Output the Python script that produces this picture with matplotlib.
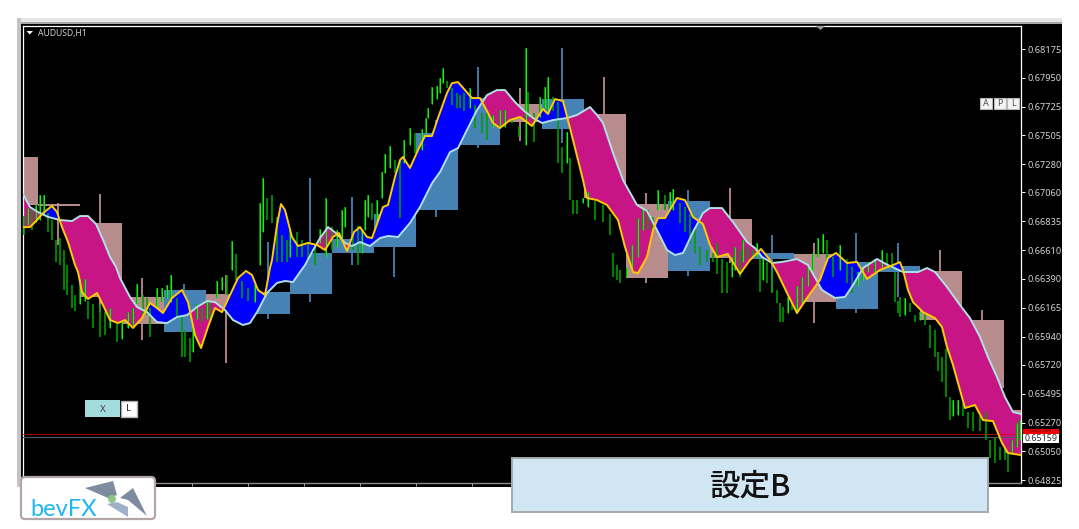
import matplotlib
matplotlib.use('Agg')  # Use non-GUI backend
import matplotlib.pyplot as plt
from matplotlib.patches import Rectangle, Polygon, Circle, FancyBboxPatch
import numpy as np

# Daily boxes (x is the chart's time position, one day = 42 units)
box_left = [-4, 38, 80, 122, 164, 206, 248, 290, 332, 374, 416, 458, 500, 542, 584, 626, 668, 710, 752, 794, 836, 878, 920, 962, 1004]
box_open = [.67336, .66971, .66823, .66248, .65975, .66271, .66115, .66271, .66590, .66636, .66924, .67429, .67748, .67553, .67670, .66970, .66450, .66854, .66543, .66582, .66154, .66442, .66450, .66069, .65369]
box_close = [.66963, .66955, .66248, .66037, .66302, .66146, .66286, .66590, .66698, .66893, .67522, .67794, .67608, .67786, .67017, .66395, .66994, .66551, .66590, .66208, .66519, .66488, .66069, .65540, .65035]
box_high = [.67336, .66979, .67048, .66395, .66349, .66419, .66675, .67172, .67025, .67079, .67623, .68035, .67872, .68183, .67958, .67056, .67079, .67095, .66730, .66668, .66745, .66668, .66613, .66146, .65369]
box_low = [.66963, .66652, .66130, .65913, .65975, .65735, .66076, .66208, .66496, .66403, .66869, .67405, .67460, .67445, .67017, .66357, .66411, .66512, .66286, .66045, .66123, .66248, .66069, .65540, .64887]

# Slow line (pale)
slow_x = [23, 30, 38, 48, 60, 72, 80, 88, 96, 104, 110, 116, 120, 130, 137, 147, 157, 167, 177, 187, 197, 207, 215, 225, 233, 243, 250, 257, 267, 277, 285, 293, 300, 305, 312, 320, 328, 336, 345, 352, 360, 370, 380, 388, 398, 410, 420, 432, 440, 450, 458, 467, 477, 487, 497, 505, 515, 523, 533, 542, 553, 567, 577, 590, 597, 603, 613, 623, 637, 647, 657, 667, 675, 683, 693, 703, 710, 722, 733, 747, 755, 762, 772, 782, 797, 808, 822, 835, 845, 853, 863, 877, 888, 903, 918, 927, 935, 947, 960, 970, 980, 988, 997, 1005, 1013, 1021]
slow_y = [.67048, .66947, .66908, .66870, .66846, .66838, .66877, .66877, .66815, .66675, .66559, .66481, .66395, .66248, .66170, .66130, .66053, .66045, .66092, .66107, .66170, .66216, .66208, .66146, .66069, .66030, .66045, .66130, .66279, .66357, .66372, .66364, .66442, .66496, .66597, .66706, .66791, .66745, .66668, .66644, .66675, .66644, .66706, .66722, .66714, .66823, .66947, .67133, .67219, .67374, .67405, .67546, .67701, .67817, .67856, .67856, .67763, .67701, .67639, .67600, .67623, .67639, .67662, .67724, .67662, .67600, .67367, .67157, .66963, .66916, .66768, .66613, .66574, .66590, .66753, .66900, .66939, .66939, .66830, .66675, .66628, .66559, .66512, .66520, .66543, .66496, .66302, .66240, .66248, .66341, .66473, .66543, .66496, .66442, .66442, .66473, .66442, .66325, .66185, .66084, .65936, .65781, .65625, .65470, .65354, .65338]

# Fast line (yellow)
fast_x = [23, 30, 37, 43, 52, 57, 62, 68, 75, 78, 82, 88, 97, 103, 110, 118, 125, 133, 142, 150, 157, 163, 172, 182, 188, 195, 201, 208, 215, 222, 230, 238, 246, 252, 258, 265, 270, 272, 277, 281, 285, 292, 298, 308, 317, 325, 333, 339, 347, 354, 360, 367, 372, 383, 388, 395, 400, 403, 410, 418, 425, 432, 438, 447, 452, 458, 465, 472, 480, 488, 493, 500, 510, 520, 532, 543, 548, 555, 563, 570, 583, 587, 597, 607, 618, 625, 633, 638, 647, 653, 658, 665, 677, 685, 693, 703, 710, 717, 728, 740, 750, 761, 770, 777, 787, 797, 807, 820, 828, 836, 847, 857, 867, 880, 893, 900, 903, 908, 913, 923, 935, 942, 947, 953, 960, 965, 975, 983, 993, 1002, 1008, 1021]
fast_y = [.66791, .66791, .66846, .66900, .66955, .66908, .66791, .66675, .66496, .66442, .66286, .66232, .66279, .66185, .66069, .66045, .66069, .66007, .66084, .66201, .66162, .66123, .66240, .66302, .66208, .65952, .65851, .66014, .66162, .66130, .66263, .66395, .66450, .66419, .66302, .66263, .66473, .66535, .66807, .66970, .66924, .66714, .66644, .66668, .66652, .66613, .66714, .66745, .66605, .66753, .66791, .66714, .66706, .66947, .66963, .67180, .67312, .67336, .67250, .67390, .67499, .67499, .67639, .67833, .67910, .67918, .67856, .67794, .67794, .67678, .67600, .67561, .67623, .67647, .67577, .67709, .67670, .67786, .67771, .67561, .67157, .67017, .67001, .66963, .66846, .66636, .66442, .66434, .66559, .66768, .66861, .66861, .67017, .67001, .66869, .66815, .66652, .66559, .66582, .66427, .66535, .66621, .66535, .66442, .66279, .66123, .66240, .66380, .66551, .66590, .66512, .66520, .66388, .66458, .66496, .66519, .66458, .66302, .66208, .66130, .66084, .66014, .65859, .65719, .65525, .65385, .65408, .65291, .65283, .65113, .65035, .65019]

# Hourly bars (sampled)
bar_x = [24, 28, 32, 36, 40, 44, 48, 52, 56, 60, 64, 67, 72, 75, 80, 85, 88, 93, 100, 105, 110, 117, 122, 128, 133, 137, 143, 147, 150, 157, 162, 167, 171, 177, 182, 185, 190, 193, 197, 202, 207, 210, 217, 222, 227, 232, 236, 242, 248, 255, 260, 263, 267, 272, 277, 282, 287, 290, 297, 302, 308, 315, 320, 326, 332, 337, 342, 345, 353, 358, 362, 365, 368, 372, 377, 382, 385, 390, 395, 400, 404, 410, 415, 422, 426, 428, 432, 437, 440, 443, 447, 452, 457, 460, 464, 470, 475, 482, 487, 493, 500, 505, 512, 519, 526, 528, 534, 540, 545, 548, 553, 558, 562, 567, 570, 573, 577, 583, 588, 595, 603, 610, 613, 617, 620, 627, 632, 638, 643, 648, 653, 658, 665, 670, 673, 680, 685, 690, 695, 700, 707, 713, 717, 722, 727, 732, 735, 740, 743, 748, 753, 757, 760, 763, 767, 772, 777, 780, 783, 788, 792, 797, 802, 808, 813, 818, 823, 827, 833, 840, 847, 852, 858, 863, 868, 875, 882, 887, 892, 895, 898, 900, 905, 910, 915, 920, 925, 930, 935, 938, 942, 946, 950, 953, 958, 963, 968, 973, 980, 986, 990, 995, 1000, 1005, 1008, 1012, 1017, 1020]
bar_high = [.6688, .6694, .6692, .6696, .6704, .6704, .6690, .6685, .6669, .6671, .6661, .6650, .6634, .6626, .6639, .6639, .6622, .6619, .6619, .6613, .6616, .6605, .6605, .6613, .6616, .6635, .6626, .6624, .6616, .6632, .6632, .6634, .6642, .6624, .6611, .6598, .6593, .6601, .6619, .6616, .6621, .6621, .6637, .6640, .6642, .6668, .6658, .6637, .6632, .6635, .6698, .6717, .6702, .6704, .6687, .6673, .6669, .6677, .6675, .6669, .6667, .6664, .6678, .6702, .6679, .6677, .6692, .6695, .6674, .6680, .6677, .6700, .6704, .6698, .6700, .6722, .6736, .6742, .6731, .6731, .6747, .6756, .6752, .6755, .6764, .6772, .6788, .6789, .6795, .6803, .6793, .6787, .6783, .6782, .6783, .6787, .6774, .6768, .6770, .6766, .6770, .6770, .6765, .6758, .6818, .6784, .6768, .6780, .6788, .6796, .6780, .6776, .6741, .6753, .6733, .6700, .6700, .6702, .6706, .6699, .6696, .6689, .6659, .6650, .6646, .6647, .6665, .6686, .6694, .6692, .6687, .6708, .6704, .6706, .6709, .6698, .6695, .6689, .6679, .6664, .6661, .6659, .6667, .6654, .6652, .6656, .6664, .6661, .6669, .6664, .6661, .6667, .6654, .6654, .6652, .6646, .6630, .6620, .6617, .6625, .6620, .6633, .6640, .6648, .6659, .6671, .6674, .6669, .6656, .6665, .6654, .6648, .6644, .6648, .6652, .6654, .6661, .6659, .6659, .6644, .6622, .6625, .6624, .6620, .6611, .6613, .6612, .6603, .6599, .6582, .6578, .6584, .6547, .6545, .6545, .6542, .6535, .6535, .6532, .6535, .6514, .6515, .6508, .6508, .6503, .6514, .6527, .6529]
bar_low = [.6673, .6681, .6677, .6683, .6685, .6689, .6675, .6669, .6652, .6650, .6630, .6626, .6616, .6614, .6619, .6622, .6608, .6601, .6594, .6595, .6601, .6590, .6592, .6601, .6603, .6619, .6611, .6611, .6594, .6616, .6621, .6624, .6621, .6608, .6578, .6578, .6574, .6582, .6608, .6605, .6608, .6608, .6624, .6630, .6626, .6646, .6638, .6624, .6622, .6621, .6650, .6675, .6685, .6682, .6652, .6652, .6652, .6656, .6656, .6656, .6652, .6650, .6667, .6656, .6661, .6664, .6671, .6679, .6661, .6650, .6659, .6677, .6687, .6685, .6685, .6702, .6721, .6725, .6721, .6686, .6729, .6743, .6737, .6739, .6752, .6764, .6775, .6779, .6783, .6791, .6787, .6774, .6772, .6772, .6769, .6772, .6756, .6752, .6747, .6757, .6756, .6757, .6760, .6749, .6743, .6765, .6745, .6765, .6772, .6770, .6769, .6729, .6721, .6729, .6700, .6689, .6689, .6698, .6695, .6685, .6683, .6673, .6640, .6638, .6636, .6640, .6646, .6656, .6677, .6677, .6677, .6692, .6692, .6694, .6692, .6682, .6675, .6667, .6659, .6650, .6652, .6652, .6643, .6628, .6628, .6640, .6646, .6640, .6652, .6654, .6655, .6656, .6629, .6638, .6636, .6628, .6620, .6605, .6605, .6612, .6615, .6612, .6620, .6633, .6646, .6656, .6659, .6652, .6640, .6646, .6636, .6628, .6633, .6638, .6644, .6644, .6648, .6648, .6646, .6621, .6612, .6609, .6611, .6613, .6605, .6607, .6603, .6585, .6578, .6567, .6559, .6547, .6529, .6532, .6533, .6532, .6523, .6521, .6521, .6514, .6500, .6496, .6498, .6498, .6489, .6503, .6508, .6514]

price_ticks = [.68175, .67950, .67725, .67505, .67280, .67060, .66835, .66610, .66390, .66165, .65940, .65720, .65495, .65270, .65050, .64825]
ask_price = .65184
bid_price = .65159

fig = plt.figure(figsize=(10.79, 5.29), dpi=100, facecolor='white')

# Window chrome and overlays are placed in picture pixels
back = fig.add_axes([0, 0, 1, 1], zorder=0)
back.set_xlim(0, 1079)
back.set_ylim(529, 0)
back.axis('off')
back.add_patch(Rectangle((17, 18), 1045, 6, color='#E6E6E6', lw=0))
back.add_patch(Rectangle((17, 22), 1045, 2, color='#A8A8A8', lw=0))
back.add_patch(Rectangle((17, 18), 4, 469, color='#C4C4C4', lw=0))
back.add_patch(Rectangle((21, 24), 1041, 463, color='black', lw=0))

# Main chart
W, H = 1079, 529
ax = fig.add_axes([23 / W, 1 - 483 / H, (1021 - 23) / W, (483 - 26) / H], zorder=1)
ax.set_facecolor('black')
ax.set_xlim(23, 1021)
ax.set_ylim(.64802, .68354)

box_open = np.array(box_open)
box_close = np.array(box_close)
box_colors = ['#4682B4' if c > o else '#B88C8C' for o, c in zip(box_open, box_close)]
box_mid = np.array(box_left) + 20
ax.vlines(box_mid, box_low, box_high, colors=box_colors, lw=1.3, zorder=1)
ax.bar(box_left, np.abs(box_close - box_open), bottom=np.minimum(box_open, box_close),
       width=42, align='edge', color=box_colors, lw=0, zorder=1)

# Area between the two lines, on a shared x
xs = np.union1d(slow_x, fast_x)
xs = np.union1d(xs, np.arange(23, 1022))
slow_on_x = np.interp(xs, slow_x, slow_y)
fast_on_x = np.interp(xs, fast_x, fast_y)
ax.fill_between(xs, slow_on_x, fast_on_x, where=fast_on_x >= slow_on_x, color='#0000FF', lw=0, zorder=2)
ax.fill_between(xs, slow_on_x, fast_on_x, where=fast_on_x < slow_on_x, color='#C71585', lw=0, zorder=2)

ax.axhline(ask_price, color='#E00000', lw=0.55, zorder=3)
ax.axhline(bid_price, color='#4A5866', lw=0.8, zorder=3)

bar_high = np.array(bar_high)
bar_low = np.array(bar_low)
bar_mid = (bar_high + bar_low) / 2
rising = np.diff(bar_mid, prepend=bar_mid[0]) > 0
bar_x = np.array(bar_x)
# dark body on every bar, bright core on the rising ones
ax.vlines(bar_x, bar_low, bar_high, colors='#00A000', lw=1.5, alpha=0.8, zorder=3)
ax.vlines(bar_x[rising], bar_low[rising], bar_high[rising], colors='#22F022', lw=0.8, alpha=0.95, zorder=3)

ax.plot(slow_x, slow_y, color='#B0E0E6', lw=1.4, solid_joinstyle='round', zorder=4)
ax.plot(fast_x, fast_y, color='#FFCC00', lw=1.4, solid_joinstyle='round', zorder=5)

for side in ['top', 'left', 'right']:
    ax.spines[side].set_color('white')
    ax.spines[side].set_linewidth(0.9)
ax.spines['bottom'].set_color('#8C8C8C')
ax.spines['bottom'].set_linewidth(1.0)
ax.yaxis.tick_right()
ax.set_yticks(price_ticks)
ax.set_yticklabels(['%.5f' % p for p in price_ticks], family='Noto Sans', fontsize=6.6, color='#D4D4D4')
ax.tick_params(axis='y', color='white', length=3, width=0.7, pad=2)
ax.set_xticks(np.arange(24, 1021, 56))
ax.set_xticklabels([])
ax.tick_params(axis='x', color='#B0B0B0', length=2, width=0.7)

# Overlays
top = fig.add_axes([0, 0, 1, 1], zorder=2)
top.set_xlim(0, 1079)
top.set_ylim(529, 0)
top.axis('off')
top.patch.set_alpha(0)

top.add_patch(Polygon([(26.5, 31), (33, 31), (29.7, 34.5)], color='white', lw=0))
top.text(37.5, 33.2, 'AUDUSD,H1', family='Noto Sans', fontsize=6.2, color='#D0D0D0', va='center')
top.add_patch(Polygon([(816, 26), (825, 26), (820.5, 30)], color='#9A9A9A', lw=0))

# A P L buttons
for left, label in zip([980, 994, 1007], ['A', 'P', 'L']):
    top.add_patch(Rectangle((left, 97.5), 12, 11.5, facecolor='#F4F4F4', edgecolor='#B8B8B8', lw=0.8))
    top.text(left + 6, 103.3, label, family='Noto Sans', fontsize=6.5, color='#505050', ha='center', va='center')

# X / L buttons
top.add_patch(Rectangle((85, 400), 35, 17, color='#A2DCDC', lw=0))
top.text(102.5, 409.5, 'X', family='Noto Sans', fontsize=7, color='#404040', ha='center', va='center')
top.add_patch(Rectangle((121, 400.5), 15.5, 16, facecolor='white', edgecolor='#B0B0B0', lw=1.0))
top.text(128.7, 408.5, 'L', family='Noto Sans', fontsize=7, color='#202020', ha='center', va='center')

# Price tags
top.add_patch(Rectangle((1023, 428.5), 36, 6, color='#F00000', lw=0))
top.text(1041, 430.8, '%.5f' % ask_price, family='Noto Sans', fontsize=4.4, color='#600000', ha='center', va='center')
top.add_patch(Rectangle((1023, 433.5), 36, 9, color='white', lw=0))
top.text(1041, 438.3, '%.5f' % bid_price, family='Noto Sans', fontsize=6.4, color='#303030', ha='center', va='center')

# Caption box
top.add_patch(Rectangle((511.5, 458), 476.5, 54, facecolor='#D0E6F3', edgecolor='#A3ABB0', lw=1.4))
top.text(750.5, 487, '設定B', family=['Noto Sans CJK JP', 'DejaVu Sans'], fontsize=22, color='#111111',
         ha='center', va='center', fontweight='medium')

# Logo
top.add_patch(FancyBboxPatch((24, 480), 128, 36, boxstyle='round,pad=3,rounding_size=4',
                             facecolor='white', edgecolor='#B5A6A6', lw=1.6))
top.add_patch(Polygon([(85, 488), (113, 481), (117, 495), (108, 498)], color='#7F8CA0', lw=0))
top.add_patch(Polygon([(120, 498), (133, 488), (147, 516), (128, 500)], color='#7F8CA0', lw=0))
top.add_patch(Polygon([(107, 504), (128, 517), (128, 507), (117, 502)], color='#A0B0C8', lw=0))
top.add_patch(Circle((112, 499), 4, color='#92C48A', lw=0))
top.text(30.5, 516, 'bevFX', family='Lato', fontsize=17, color='#1FB5F2', va='baseline', fontweight='normal')

plt.savefig('out.png', dpi=100)
print('Saved: out.png')
plt.close()
